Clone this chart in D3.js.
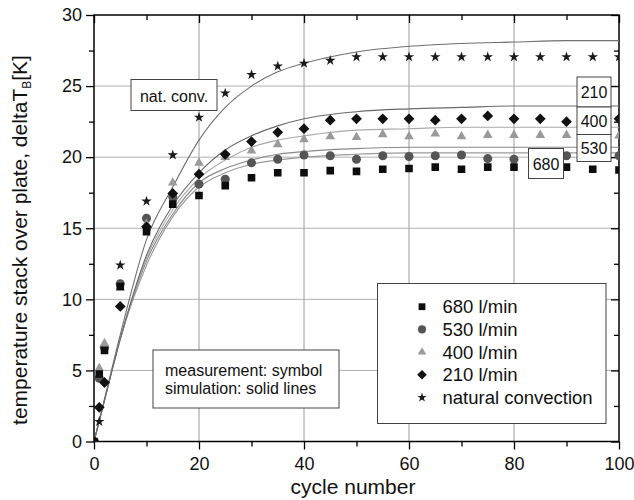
<!DOCTYPE html>
<html>
<head>
<meta charset="utf-8">
<script src="https://cdn.jsdelivr.net/npm/d3@7"></script>
<style>
body{margin:0;background:#fff}
svg{font-family:"Liberation Sans",Arial,sans-serif}
</style>
</head>
<body>
<svg width="634" height="500"></svg>
<script>

var cycles = [0,1,2,5,10,15,20,25,30,35,40,45,50,55,60,65,70,75,80,85,90,95,100]
var m680 = [0,4.75,6.4,10.9,14.75,16.7,17.3,18.0,18.55,18.9,18.9,19.05,19.0,19.15,19.2,19.3,19.15,19.3,19.3,19.25,19.3,19.15,19.1]
var m530 = [0,4.45,6.6,11.1,15.7,17.2,18.1,18.45,19.6,19.85,20.15,20.1,19.85,20.1,20.05,20.1,20.15,19.9,19.85,20.0,20.1,20.0,20.1]
var m400 = [0,5.15,6.9,10.8,15.3,18.2,19.6,20.0,20.45,20.9,21.25,21.45,21.4,21.6,21.45,21.65,21.45,21.55,21.55,21.55,21.55,21.5,21.5]
var m210 = [0,2.4,4.15,9.5,15.1,17.45,18.8,20.2,21.1,21.75,22.0,22.6,22.7,22.7,22.7,22.6,22.7,22.9,22.7,22.7,22.5,22.7,22.7]
var mNat = [0,1.4,6.5,12.4,16.9,20.15,22.8,24.5,25.8,26.4,26.6,26.8,27.05,27.05,27.05,27.05,27.05,27.05,27.05,27.05,27.05,27.05,27.05]

// simulation lines
var simCycles = [0,2,5,10,15,20,25,30,35,40,50,60,70,80,90,100]
var sNat = [0,3.0,7.5,14.2,17.9,21.2,23.5,25.0,26.0,26.6,27.4,27.8,28.0,28.1,28.2,28.2]
var s210 = [0,2.9,7.2,13.1,16.6,18.9,20.5,21.5,22.2,22.7,23.2,23.4,23.5,23.6,23.6,23.6]
var s400 = [0,2.9,7.2,12.9,16.3,18.5,19.8,20.7,21.2,21.5,21.9,22.0,22.1,22.1,22.1,22.1]
var s530 = [0,2.9,7.2,12.7,16.0,18.2,19.2,19.8,20.2,20.4,20.6,20.7,20.7,20.7,20.7,20.7]
var s680 = [0,2.9,7.2,12.4,15.8,17.9,18.9,19.5,19.8,20.0,20.2,20.3,20.3,20.3,20.3,20.3]

var xTicks = [0,20,40,60,80,100]
var xMinor = [10,30,50,70,90]
var yTicks = [0,5,10,15,20,25,30]
var yMinor = [2.5,7.5,12.5,17.5,22.5,27.5]

var legendNames = ["680 l/min","530 l/min","400 l/min","210 l/min","natural convection"]
var flowLabels = ["210","400","530"]

var svg = d3.select("svg")
var x = d3.scaleLinear().domain([0,100]).range([94,619])
var y = d3.scaleLinear().domain([0,30]).range([441.5,15])

svg.append("clipPath").attr("id","clip")
   .append("rect").attr("x",94).attr("y",15).attr("width",525).attr("height",426.5)

// grid
svg.append("g").selectAll("line").data(xTicks.slice(1,-1)).enter().append("line")
   .attr("x1",d=>x(d)).attr("x2",d=>x(d)).attr("y1",y(0)).attr("y2",y(30))
   .attr("stroke","#9a9a9a").attr("stroke-width",1)
svg.append("g").selectAll("line").data(yTicks.slice(1,-1)).enter().append("line")
   .attr("y1",d=>y(d)).attr("y2",d=>y(d)).attr("x1",x(0)).attr("x2",x(100))
   .attr("stroke","#b0b0b0").attr("stroke-width",1)

// axes
var axisStyle = function(g){
    g.select(".domain").remove()
    g.selectAll("line").attr("stroke","#000").attr("stroke-width",1.3)
    g.selectAll("text").attr("font-size",18).attr("fill","#111").attr("font-family","Liberation Sans, Arial, sans-serif")
}
svg.append("g").attr("transform","translate(0,"+y(0)+")")
   .call(d3.axisBottom(x).tickValues(xTicks).tickSize(8).tickPadding(8)).call(axisStyle)
svg.append("g").attr("transform","translate(0,"+y(0)+")")
   .call(d3.axisBottom(x).tickValues(xMinor).tickSize(5).tickFormat("")).call(axisStyle)
svg.append("g").attr("transform","translate(0,"+y(30)+")")
   .call(d3.axisTop(x).tickValues(xTicks).tickSize(-8).tickFormat("")).call(axisStyle)
svg.append("g").attr("transform","translate(0,"+y(30)+")")
   .call(d3.axisTop(x).tickValues(xMinor).tickSize(-5).tickFormat("")).call(axisStyle)
svg.append("g").attr("transform","translate("+x(0)+",0)")
   .call(d3.axisLeft(y).tickValues(yTicks).tickSize(8).tickPadding(4)).call(axisStyle)
svg.append("g").attr("transform","translate("+x(0)+",0)")
   .call(d3.axisLeft(y).tickValues(yMinor).tickSize(5).tickFormat("")).call(axisStyle)
svg.append("g").attr("transform","translate("+x(100)+",0)")
   .call(d3.axisRight(y).tickValues(yTicks).tickSize(-8).tickFormat("")).call(axisStyle)
svg.append("g").attr("transform","translate("+x(100)+",0)")
   .call(d3.axisRight(y).tickValues(yMinor).tickSize(-5).tickFormat("")).call(axisStyle)

svg.append("rect").attr("x",x(0)).attr("y",y(30)).attr("width",x(100)-x(0)).attr("height",y(0)-y(30))
   .attr("fill","none").attr("stroke","#000").attr("stroke-width",1.5)

// simulation lines
var line = d3.line().x((d,i)=>x(simCycles[i])).y(d=>y(d)).curve(d3.curveMonotoneX)
var sims = [[s680,"#9a9a9a"],[s530,"#888"],[s400,"#aaa"],[s210,"#6a6a6a"],[sNat,"#707070"]]
var simG = svg.append("g").attr("clip-path","url(#clip)")
sims.forEach(function(s){
    simG.append("path").attr("d",line(s[0])).attr("fill","none")
        .attr("stroke",s[1]).attr("stroke-width",1.1)
})

// markers
var markers = [
    {vals:mNat, type:d3.symbolStar, size:34, fill:"#1a1a1a", rot:0},
    {vals:m530, type:d3.symbolCircle, size:64, fill:"#555", rot:0},
    {vals:m400, type:d3.symbolTriangle, size:40, fill:"#9a9a9a", rot:0},
    {vals:m210, type:d3.symbolSquare, size:58, fill:"#111", rot:45},
    {vals:m680, type:d3.symbolSquare, size:58, fill:"#0d0d0d", rot:0}
]
var markG = svg.append("g").attr("clip-path","url(#clip)")
markers.forEach(function(m){
    markG.append("g").selectAll("path").data(m.vals).enter().append("path")
        .attr("d",d3.symbol().type(m.type).size(m.size))
        .attr("transform",(d,i)=>"translate("+x(cycles[i])+","+y(d)+") rotate("+m.rot+")")
        .attr("fill",m.fill)
})

// label boxes
var box = function(x0,y0,w,h){
    svg.append("rect").attr("x",x0).attr("y",y0).attr("width",w).attr("height",h)
       .attr("fill","#fff").attr("stroke","#444").attr("stroke-width",1)
}
box(131,79.5,86,31)
svg.append("text").attr("x",174).attr("y",101.5).attr("text-anchor","middle")
   .attr("font-size",16).attr("fill","#111").text("nat. conv.")

flowLabels.forEach(function(t,i){
    var tops = [77,107,134.5]
    var hs = [30,27.5,27]
    box(577,tops[i],34,hs[i])
    svg.append("text").attr("x",594).attr("y",tops[i]+hs[i]/2+6).attr("text-anchor","middle")
       .attr("font-size",16).attr("fill","#111").text(t)
})
box(528.5,148.5,35,30)
svg.append("text").attr("x",546).attr("y",169.5).attr("text-anchor","middle")
   .attr("font-size",16).attr("fill","#111").text("680")

box(153,350,186,58)
svg.append("text").attr("x",165).attr("y",375.5).attr("font-size",16).attr("fill","#111").text("measurement: symbol")
svg.append("text").attr("x",165).attr("y",394).attr("font-size",16).attr("fill","#111").text("simulation: solid lines")

// legend
box(377.5,283.5,228.5,140)
var legendMarks = [markers[4],markers[1],markers[2],markers[3],markers[0]]
legendNames.forEach(function(n,i){
    var cy = 306.7 + i*22.7
    var m = legendMarks[i]
    svg.append("path").attr("d",d3.symbol().type(m.type).size(m.size*0.8))
       .attr("transform","translate(422,"+cy+") rotate("+m.rot+")").attr("fill",m.fill)
    svg.append("text").attr("x",442.5).attr("y",cy+6.5).attr("font-size",18.5).attr("fill","#111").text(n)
})

// axis titles
svg.append("text").attr("x",353).attr("y",493.5).attr("text-anchor","middle")
   .attr("font-size",21).attr("fill","#111").text("cycle number")
var yt = svg.append("text").attr("transform","translate(27,240) rotate(-90)").attr("text-anchor","middle")
   .attr("font-size",21).attr("fill","#111")
yt.append("tspan").text("temperature stack over plate, deltaT")
yt.append("tspan").attr("font-size",12).attr("dy",4).text("B")
yt.append("tspan").attr("dy",-4).text("[K]")

</script>
</body>
</html>
